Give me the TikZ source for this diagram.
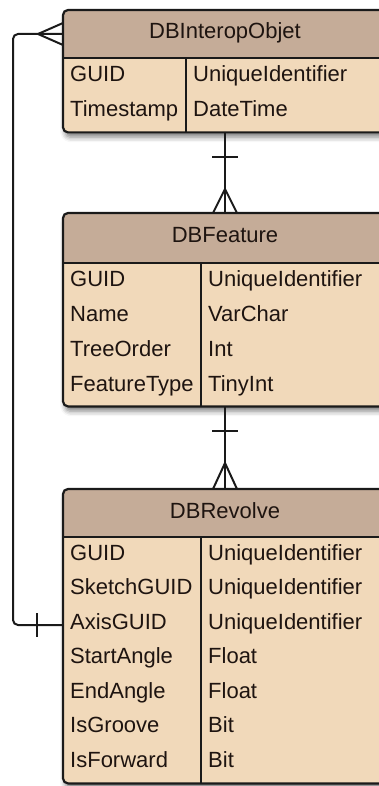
\documentclass[tikz,border=0pt]{standalone}
\usepackage{fontspec}
\setmainfont{Liberation Sans}
\usetikzlibrary{shadows.blur}

\definecolor{headfill}{HTML}{C5AC98}
\definecolor{bodyfill}{HTML}{F1D9BA}
\definecolor{ink}{HTML}{1A1A1A}
\definecolor{txt}{HTML}{1E1410}

\tikzset{
  tablebox/.style={draw=none, fill=bodyfill, rounded corners=5pt, inner sep=0pt,
    anchor=north west,
    blur shadow={shadow xshift=2pt, shadow yshift=-5pt, shadow blur radius=5pt, shadow opacity=50}},
  outline/.style={draw=ink, line width=2.2pt, rounded corners=5pt},
  sepline/.style={draw=ink, line width=2pt},
  fieldtxt/.style={anchor=base west, inner sep=0pt, text=txt, font=\fontsize{22}{26}\selectfont},
  headtxt/.style={anchor=base, inner sep=0pt, text=txt, font=\fontsize{22}{26}\selectfont},
  link/.style={draw=ink, line width=2pt},
}

\begin{document}
\begin{tikzpicture}[x=1pt, y=-1pt]
\useasboundingbox (0,0) rectangle (379,786);
\clip (0,0) rectangle (379,786);

% ---------- DBInteropObjet ----------
\node[tablebox, minimum width=327pt, minimum height=122pt] (t1) at (63,10) {};
\begin{scope}
  \clip (63,10) rectangle (390,58);
  \fill[headfill, rounded corners=5pt] (t1.north west) rectangle (t1.south east);
\end{scope}
\draw[sepline] (63,58) -- (390,58);
\draw[sepline] (186,58) -- (186,132);
\draw[outline] (t1.north west) rectangle (t1.south east);
\node[headtxt] (t1h) at (225,39) {DBInteropObjet};
\node[fieldtxt] (t1a) at (70,82)  {GUID};
\node[fieldtxt] (t1b) at (70,117) {Timestamp};
\node[fieldtxt] (t1c) at (193,82)  {UniqueIdentifier};
\node[fieldtxt] (t1d) at (193,117) {DateTime};

% ---------- DBFeature ----------
\node[tablebox, minimum width=327pt, minimum height=193pt] (t2) at (63,213) {};
\begin{scope}
  \clip (63,213) rectangle (390,263);
  \fill[headfill, rounded corners=5pt] (t2.north west) rectangle (t2.south east);
\end{scope}
\draw[sepline] (63,263) -- (390,263);
\draw[sepline] (201,263) -- (201,406);
\draw[outline] (t2.north west) rectangle (t2.south east);
\node[headtxt] (t2h) at (225,243) {DBFeature};
\node[fieldtxt] (t2a) at (70,286) {GUID};
\node[fieldtxt] (t2b) at (70,321) {Name};
\node[fieldtxt] (t2c) at (70,356) {TreeOrder};
\node[fieldtxt] (t2d) at (70,391) {FeatureType};
\node[fieldtxt] (t2e) at (208,286) {UniqueIdentifier};
\node[fieldtxt] (t2f) at (208,321) {VarChar};
\node[fieldtxt] (t2g) at (208,356) {Int};
\node[fieldtxt] (t2i) at (208,391) {TinyInt};

% ---------- DBRevolve ----------
\node[tablebox, minimum width=327pt, minimum height=294pt] (t3) at (63,489) {};
\begin{scope}
  \clip (63,489) rectangle (390,537);
  \fill[headfill, rounded corners=5pt] (t3.north west) rectangle (t3.south east);
\end{scope}
\draw[sepline] (63,537) -- (390,537);
\draw[sepline] (201,537) -- (201,783);
\draw[outline] (t3.north west) rectangle (t3.south east);
\node[headtxt] (t3h) at (225,518) {DBRevolve};
\node[fieldtxt] (r1) at (70,560)   {GUID};
\node[fieldtxt] (r2) at (70,594.5) {SketchGUID};
\node[fieldtxt] (r3) at (70,629)   {AxisGUID};
\node[fieldtxt] (r4) at (70,663.5) {StartAngle};
\node[fieldtxt] (r5) at (70,698)   {EndAngle};
\node[fieldtxt] (r6) at (70,732.5) {IsGroove};
\node[fieldtxt] (r7) at (70,767)   {IsForward};
\node[fieldtxt] (s1) at (208,560)   {UniqueIdentifier};
\node[fieldtxt] (s2) at (208,594.5) {UniqueIdentifier};
\node[fieldtxt] (s3) at (208,629)   {UniqueIdentifier};
\node[fieldtxt] (s4) at (208,663.5) {Float};
\node[fieldtxt] (s5) at (208,698)   {Float};
\node[fieldtxt] (s6) at (208,732.5) {Bit};
\node[fieldtxt] (s7) at (208,767)   {Bit};

% ---------- relationships ----------
% DBInteropObjet (one) -> DBFeature (many)
\coordinate (a1) at (225,132);
\coordinate (a2) at (225,213);
\draw[link] (a1) -- (a2);
\draw[link] (212,157) -- (238,157);
\draw[link] (213,213) -- (225,189) -- (237,213);

% DBFeature (one) -> DBRevolve (many)
\coordinate (b1) at (225,406);
\coordinate (b2) at (225,489);
\draw[link] (b1) -- (b2);
\draw[link] (212,431) -- (238,431);
\draw[link] (213,489) -- (225,463) -- (237,489);

% DBRevolve.AxisGUID (one) -> DBInteropObjet (many)
\coordinate (c1) at (63,625);
\coordinate (c2) at (63,34);
\draw[link, rounded corners=5pt] (c1) -- (13,625) -- (13,34) -- (c2);
\draw[link] (37,613) -- (37,637);
\draw[link] (63,23) -- (38,34) -- (63,45);
\end{tikzpicture}
\end{document}
